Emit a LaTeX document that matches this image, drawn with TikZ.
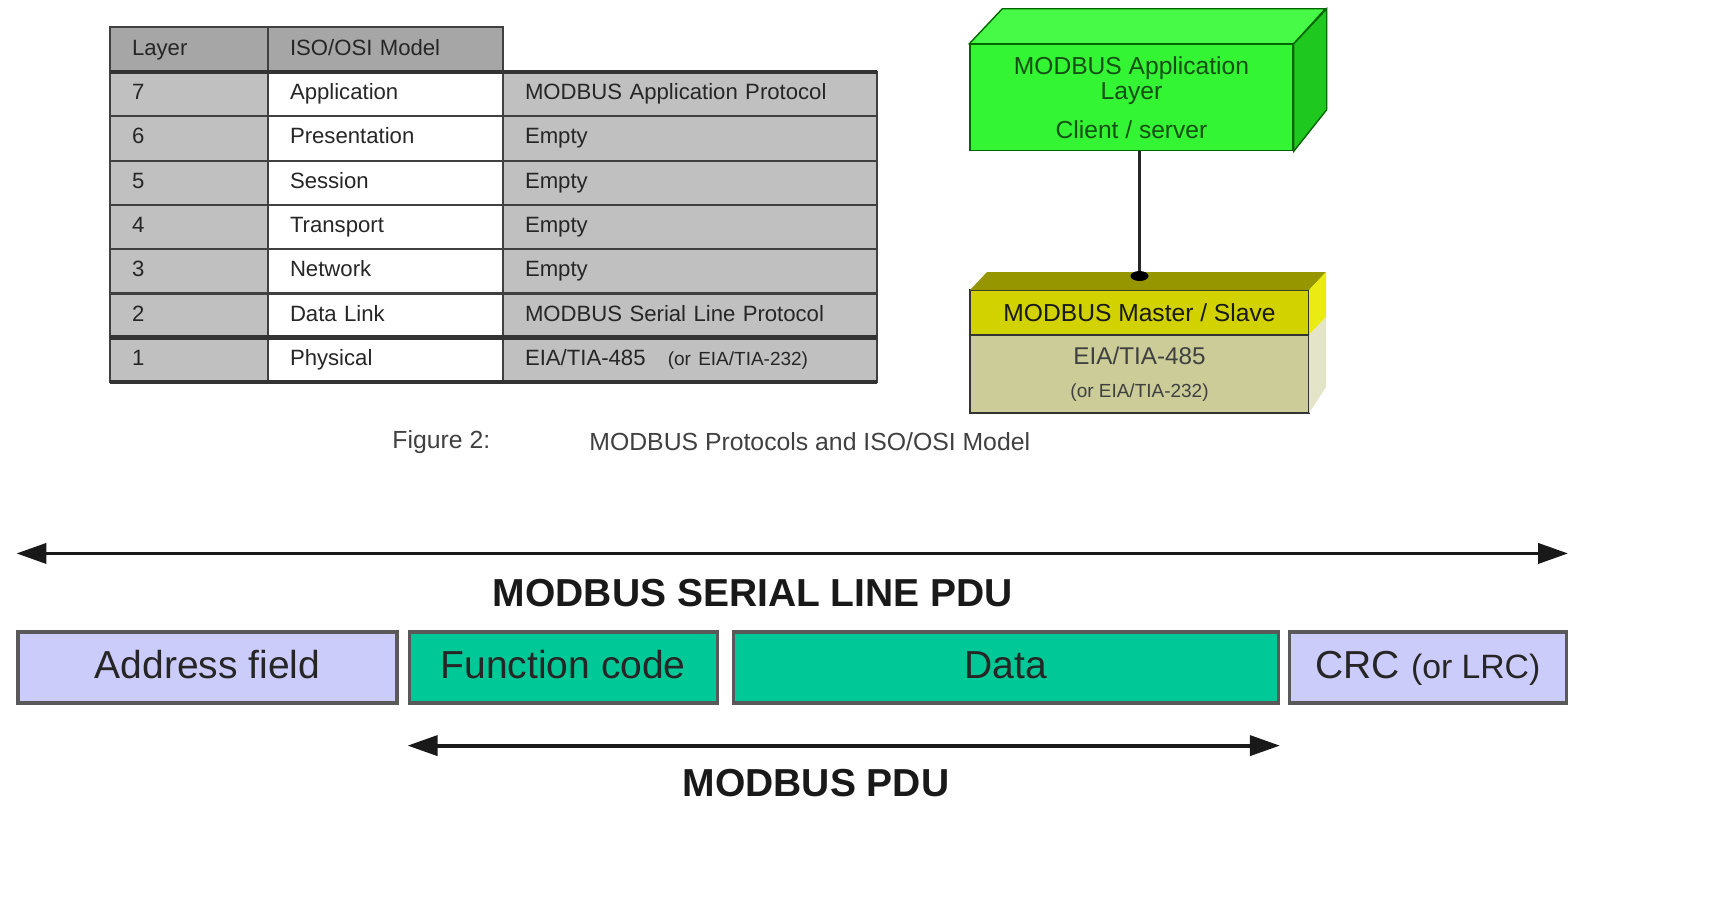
\documentclass[tikz,border=0pt]{standalone}
\usepackage{fontspec}
\setmainfont{Liberation Sans}
\usepackage{xcolor}
\usepackage{tikz}
\usetikzlibrary{arrows.meta, positioning}

\definecolor{hdrgray}{RGB}{166,166,166}
\definecolor{cellgray}{RGB}{192,192,192}
\definecolor{appgreen}{RGB}{51,245,51}
\definecolor{apptop}{RGB}{72,250,72}
\definecolor{appside}{RGB}{30,200,30}
\definecolor{apptext}{RGB}{20,80,20}
\definecolor{mstyellow}{RGB}{210,210,0}
\definecolor{msttop}{RGB}{150,150,0}
\definecolor{mstside}{RGB}{235,235,20}
\definecolor{physkhaki}{RGB}{204,204,153}
\definecolor{physside}{RGB}{228,228,200}
\definecolor{addrblue}{RGB}{204,204,250}
\definecolor{pdugreen}{RGB}{0,200,150}

\newcommand{\tabfont}{\fontsize{6.3pt}{7pt}\selectfont}
\newcommand{\boxfont}{\fontsize{7pt}{7.2pt}\selectfont}
\newcommand{\pdufont}{\fontsize{11.1pt}{13pt}\selectfont}

\begin{document}
\begin{tikzpicture}[
		% Define styles
		cell/.style={
			rectangle,
			draw=black!75,
			line width=0.6pt,
			outer sep=0pt,
			inner xsep=0.22cm,
			inner ysep=0pt,
			minimum height=0.443cm,
			text height=0.16cm,
			text depth=0.05cm,
			fill=cellgray,
			text=black!85,
			font=\tabfont,
			align=left
		},
		layer col/.style={cell, text width=1.14cm},
		iso col/.style={cell, text width=1.91cm, fill=white},
		modbus col/.style={cell, text width=3.30cm},
		header/.style={minimum height=0.45cm, fill=hdrgray},
		thick rule/.style={line width=1.4pt, black!80},
		appbox/.style={
			rectangle,
			draw=black!60!green,
			fill=appgreen,
			minimum width=3.23cm,
			minimum height=1.01cm,
			align=center,
			text=apptext,
			font=\boxfont
		},
		stackbox/.style={
			rectangle,
			draw=black!80,
			line width=0.6pt,
			outer sep=0pt,
			minimum width=3.39cm,
			align=center,
			font=\boxfont
		},
		field/.style={
			rectangle,
			draw=black!65,
			line width=0.9pt,
			minimum height=0.71cm,
			text height=0.29cm,
			text depth=0.08cm,
			text=black!85,
			font=\pdufont
		},
		pdulabel/.style={font=\pdufont\bfseries, text=black!90},
		caption/.style={anchor=west, text=black!75, font=\fontsize{7.05pt}{8pt}\selectfont},
		% Define arrow style
		pduarrow/.style={{Triangle[length=0.3cm,width=0.2cm]}-{Triangle[length=0.3cm,width=0.2cm]}, line width=1.1pt, black!90},
		link/.style={line width=0.6pt, black!85}
		]
		
		\useasboundingbox (0,0) rectangle (17.12,-9.02);
		
		% ----- ISO/OSI Table -----
		\node[layer col, header, anchor=north west] (hdrLayer) at (1.10,-0.27) {Layer};
		\node[iso col, header, right=0pt of hdrLayer] (hdrModel) {ISO/OSI Model};
		
		\node[layer col, below=0pt of hdrLayer] (num7) {7};
		\node[iso col, right=0pt of num7] (iso7) {Application};
		\node[modbus col, right=0pt of iso7] (mb7) {MODBUS Application Protocol};
		
		\node[layer col, below=0pt of num7] (num6) {6};
		\node[iso col, right=0pt of num6] (iso6) {Presentation};
		\node[modbus col, right=0pt of iso6] (mb6) {Empty};
		
		\node[layer col, below=0pt of num6] (num5) {5};
		\node[iso col, right=0pt of num5] (iso5) {Session};
		\node[modbus col, right=0pt of iso5] (mb5) {Empty};
		
		\node[layer col, below=0pt of num5] (num4) {4};
		\node[iso col, right=0pt of num4] (iso4) {Transport};
		\node[modbus col, right=0pt of iso4] (mb4) {Empty};
		
		\node[layer col, below=0pt of num4] (num3) {3};
		\node[iso col, right=0pt of num3] (iso3) {Network};
		\node[modbus col, right=0pt of iso3] (mb3) {Empty};
		
		\node[layer col, below=0pt of num3] (num2) {2};
		\node[iso col, right=0pt of num2] (iso2) {Data Link};
		\node[modbus col, right=0pt of iso2] (mb2) {MODBUS Serial Line Protocol};
		
		\node[layer col, below=0pt of num2] (num1) {1};
		\node[iso col, right=0pt of num1] (iso1) {Physical};
		\node[modbus col, right=0pt of iso1] (mb1) {EIA/TIA-485\quad{\fontsize{5.4pt}{6pt}\selectfont(or EIA/TIA-232)}};
		
		\draw[thick rule] (num7.north west) -- (mb7.north east);
		\draw[thick rule] (num1.north west) -- (mb1.north east);
		\draw[thick rule, line width=1pt] (num1.south west) -- (mb1.south east);
		
		% ----- Caption -----
		\node[caption] (figNum) at (3.80,-4.42) {Figure 2:};
		\node[caption] (figTitle) at (5.77,-4.42) {MODBUS Protocols and ISO/OSI Model};
		
		% ----- Application Layer Block -----
		\node[appbox] (appLayer) at (11.315,-0.975) {MODBUS Application\\Layer\\[0.14cm]Client / server};
		\filldraw[fill=apptop, draw=black!60!green] (appLayer.north west) -- ++(0.33,0.35) -- ++(3.23,0) -- (appLayer.north east) -- cycle;
		\filldraw[fill=appside, draw=black!60!green] (appLayer.north east) -- ++(0.33,0.35) -- ++(0,-1.01) -- (appLayer.south east) -- cycle;
		
		% ----- Master / Slave Block -----
		\node[stackbox, fill=mstyellow, minimum height=0.45cm, text=black!90] (mbMaster) at (11.395,-3.125) {MODBUS Master / Slave};
		\node[stackbox, fill=physkhaki, minimum height=0.70cm, text=black!75, below=0pt of mbMaster] (mbPhys)
		{{\fontsize{6.9pt}{7pt}\selectfont EIA/TIA-485}\\[0.08cm]{\fontsize{5.4pt}{6pt}\selectfont(or EIA/TIA-232)}};
		\fill[msttop] (mbMaster.north west) -- ++(0.17,0.18) -- ++(3.39,0) -- (mbMaster.north east) -- cycle;
		\fill[mstside] (mbMaster.north east) -- ++(0.17,0.18) -- ++(0,-0.45) -- (mbMaster.south east) -- cycle;
		\fill[physside] (mbPhys.north east) -- ++(0.17,0.18) -- ++(0,-0.70) -- (mbPhys.south east) -- cycle;
		
		\coordinate[above=0.14cm of mbMaster.north] (mbDot);
		\draw[link] (appLayer.south -| mbDot) -- (mbDot);
		\fill[black] (mbDot) ellipse (0.09cm and 0.05cm);
		
		% ----- Serial Line PDU Frame -----
		\node[field, fill=addrblue, minimum width=3.79cm] (addrField) at (2.075,-6.675) {Address field};
		\node[field, fill=pdugreen, minimum width=3.08cm, right=0.09cm of addrField] (funcField) {Function code};
		\node[field, fill=pdugreen, minimum width=5.45cm, right=0.13cm of funcField] (dataField) {Data};
		\node[field, fill=addrblue, minimum width=2.77cm, right=0.08cm of dataField] (crcField) {CRC {\fontsize{9.6pt}{10pt}\selectfont(or LRC)}};
		
		\node[pdulabel] (serialLabel) at (7.53,-5.93) {MODBUS SERIAL LINE PDU};
		\node[pdulabel] (pduLabel) at (8.16,-7.83) {MODBUS PDU};
		
		% ----- Arrows -----
		\coordinate[above=0.77cm of addrField.north west] (serialL);
		\coordinate[above=0.77cm of crcField.north east] (serialR);
		\draw[pduarrow] (serialL) -- (serialR);
		
		\coordinate[below=0.41cm of funcField.south west] (pduL);
		\coordinate[below=0.41cm of dataField.south east] (pduR);
		\draw[pduarrow] (pduL) -- (pduR);
		
	\end{tikzpicture}
\end{document}
